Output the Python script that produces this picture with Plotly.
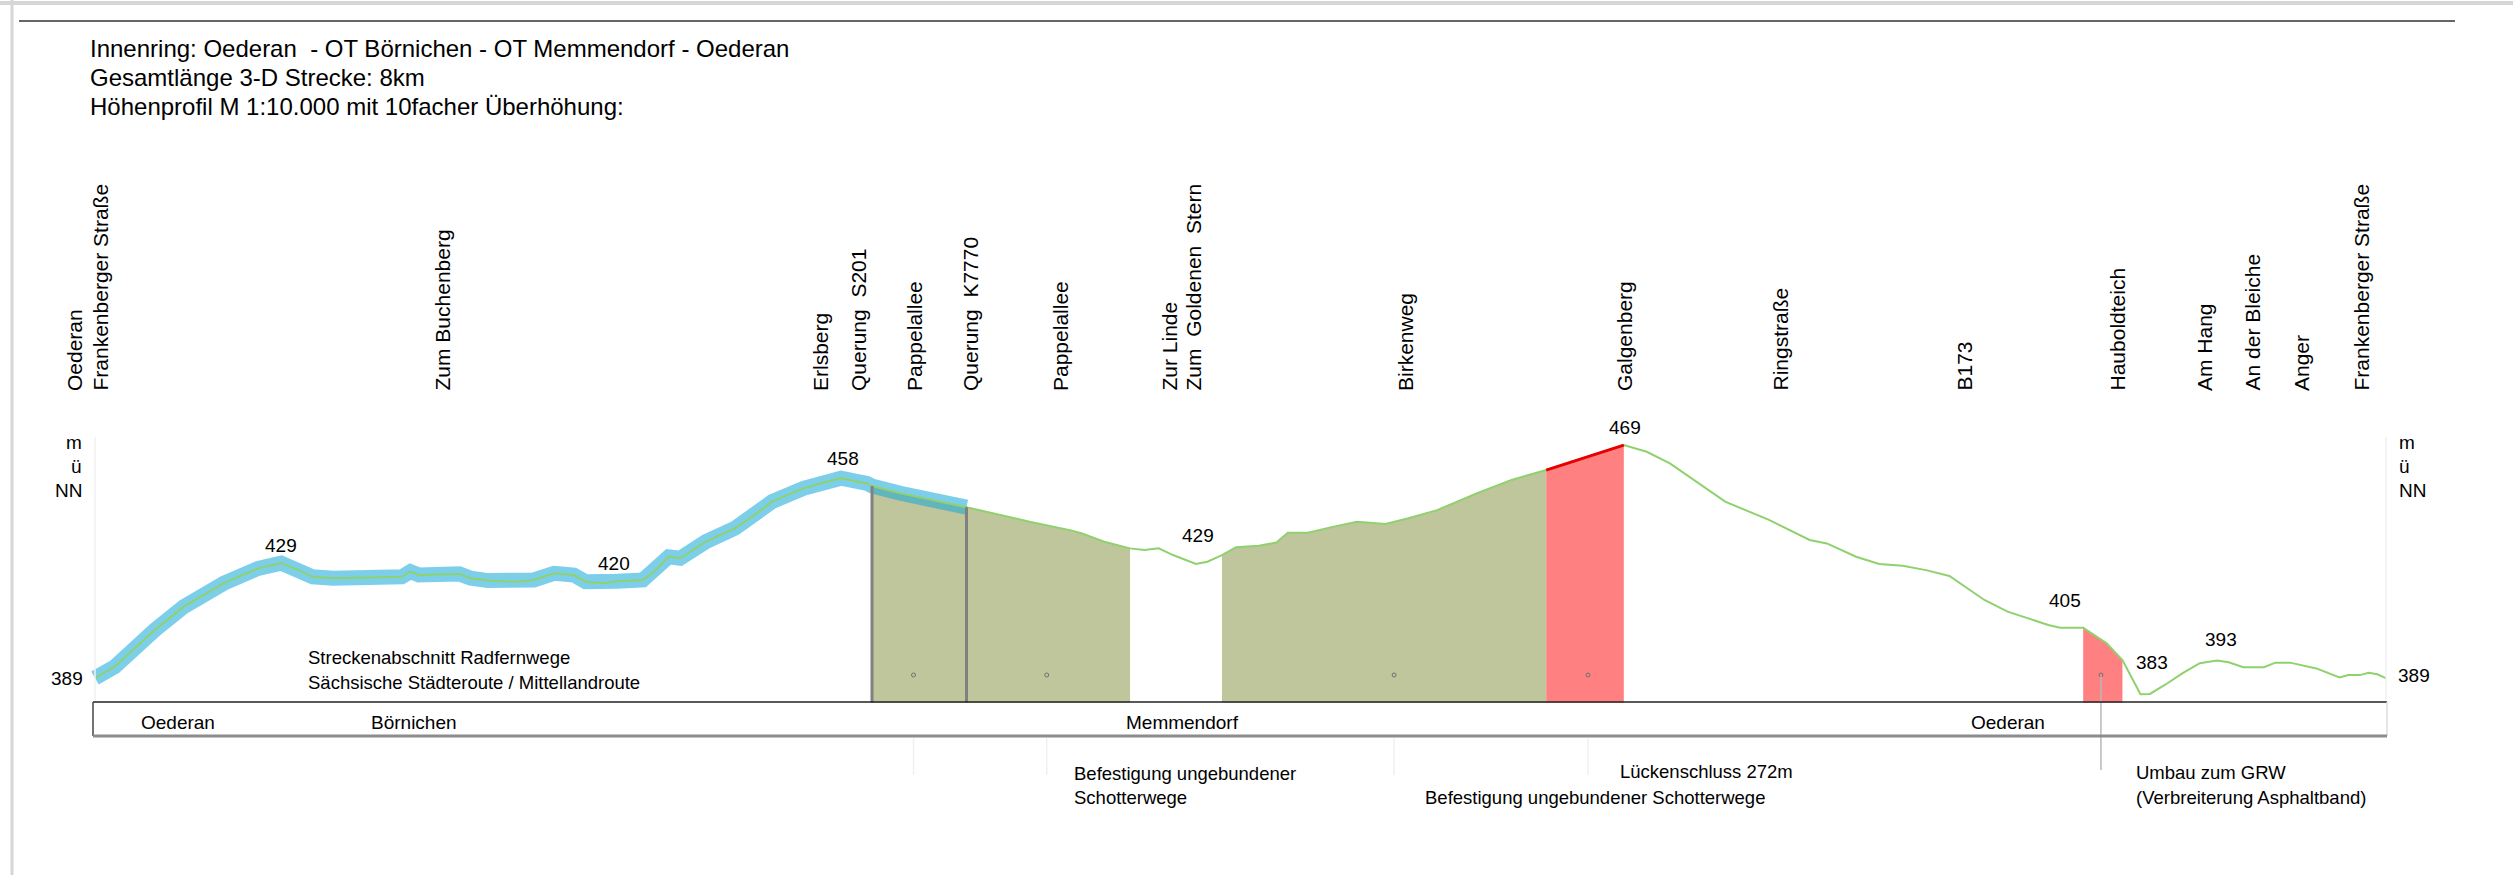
import numpy as np
import plotly.graph_objects as go

# --- data -----------------------------------------------------------------
# distance along the route (km) and elevation (m ü. NN)
DIST_KM = [0.000, 0.069, 0.209, 0.310, 0.450, 0.570, 0.650, 0.711, 0.760, 0.831,
           1.071, 1.101, 1.131, 1.272, 1.312, 1.372, 1.472, 1.532, 1.603, 1.672,
           1.713, 1.773, 1.823, 1.913, 1.953, 2.003, 2.043, 2.133, 2.234, 2.294,
           2.364, 2.474, 2.554, 2.605, 2.695, 2.713, 2.812, 3.043, 3.263, 3.404,
           3.444, 3.524, 3.614, 3.664, 3.714, 3.764, 3.844, 3.884, 3.935, 3.984,
           4.064, 4.125, 4.165, 4.235, 4.325, 4.406, 4.506, 4.586, 4.686, 4.826,
           4.946, 5.067, 5.338, 5.418, 5.499, 5.601, 5.692, 5.845, 5.987, 6.047,
           6.149, 6.230, 6.312, 6.393, 6.475, 6.597, 6.678, 6.820, 6.861, 6.942,
           7.024, 7.079, 7.115, 7.142, 7.175, 7.227, 7.288, 7.349, 7.410, 7.450,
           7.501, 7.573, 7.613, 7.664, 7.756, 7.837, 7.868, 7.908, 7.939, 7.969,
           8.000]
ELEV_M = [389.0, 392.9, 405.6, 413.6, 421.7, 426.8, 428.6, 426.2, 423.9, 423.4,
          423.9, 425.7, 424.5, 424.9, 423.4, 422.6, 422.2, 422.8, 425.1, 424.5,
          422.2, 421.7, 422.4, 422.8, 425.7, 430.8, 430.3, 436.0, 440.6, 444.6,
          449.8, 454.4, 456.7, 457.9, 456.1, 455.2, 452.7, 447.9, 442.9, 440.0,
          438.9, 436.0, 433.7, 433.1, 433.7, 431.4, 428.3, 429.1, 431.4, 434.1,
          434.6, 435.7, 439.1, 439.1, 441.2, 442.9, 442.1, 444.1, 446.9, 452.7,
          457.3, 460.7, 469.3, 467.0, 463.0, 456.1, 449.8, 443.5, 436.6, 435.4,
          430.8, 428.3, 427.7, 426.2, 424.2, 415.9, 411.9, 407.3, 406.3, 406.3,
          401.0, 395.2, 388.3, 383.4, 383.5, 386.6, 390.6, 394.1, 395.0, 394.4,
          392.7, 392.7, 394.3, 394.3, 392.3, 389.2, 390.0, 390.0, 390.8, 390.3,
          388.9]

RADWEG_KM = (0.0, 3.043)            # Radfernweg section (blue band)
GRAVEL_KM = [(2.713, 3.614), (3.935, 5.067)]   # Befestigung Schotterwege
GAP_KM = [(5.067, 5.338), (6.942, 7.079)]      # Lückenschluss / Umbau GRW
CROSSING_KM = [2.713, 3.043]                  # Querung S201 / K7770
NOTE_KM = [2.858, 3.323, 4.536, 5.213, 7.004]  # note markers
BASE_M = 380.5

PEAK_VALUES = ["429", "420", "458", "429", "469", "405", "383", "393"]

STREETS = ["Oederan", "Frankenberger Straße", "Zum Buchenberg", "Erlsberg",
           "Querung  S201", "Pappelallee", "Querung  K7770", "Pappelallee",
           "Zur Linde", "Zum  Goldenen  Stern", "Birkenweg", "Galgenberg",
           "Ringstraße", "B173", "Hauboldteich", "Am Hang", "An der Bleiche",
           "Anger", "Frankenberger Straße"]
PLACES = ["Oederan", "Börnichen", "Memmendorf", "Oederan"]

TITLE_LINES = ["Innenring: Oederan  - OT Börnichen - OT Memmendorf - Oederan",
               "Gesamtlänge 3-D Strecke: 8km",
               "Höhenprofil M 1:10.000 mit 10facher Überhöhung:"]

# --- page geometry (pixel -> data) -----------------------------------------
W, H = 2513, 875
PX0, PX_PER_KM = 95.0, 286.4
PY0, PX_PER_M = 678.0, 2.9


def X(px):
    return (px - PX0) / PX_PER_KM


def Y(py):
    return 389 + (PY0 - py) / PX_PER_M


FONT = "Arial, Liberation Sans, sans-serif"
dist = np.array(DIST_KM)
elev = np.array(ELEV_M)


def section(a, b):
    inner = (dist > a) & (dist < b)
    xs = np.concatenate([[a], dist[inner], [b]])
    ys = np.concatenate([[np.interp(a, dist, elev)], elev[inner], [np.interp(b, dist, elev)]])
    return xs, ys


fig = go.Figure()

# filled sections under the profile
for (a, b), col in [(GRAVEL_KM[0], "#c0c69c"), (GRAVEL_KM[1], "#c0c69c"),
                    (GAP_KM[0], "#ff8080"), (GAP_KM[1], "#ff8080")]:
    xs, ys = section(a, b)
    fig.add_trace(go.Scatter(x=list(xs) + [b, a], y=list(ys) + [BASE_M, BASE_M],
                             fill="toself", fillcolor=col, mode="lines",
                             line=dict(width=0, color=col), hoverinfo="skip"))

# Radfernweg band
xs, ys = section(*RADWEG_KM)
fig.add_trace(go.Scatter(x=xs, y=ys, mode="lines", hoverinfo="skip",
                         line=dict(color="rgba(19,168,215,0.55)", width=15)))

# profile line
fig.add_trace(go.Scatter(x=DIST_KM, y=ELEV_M, mode="lines", hoverinfo="skip",
                         line=dict(color="#8fd16f", width=2)))

# red edge on the first gap
xs, ys = section(*GAP_KM[0])
fig.add_trace(go.Scatter(x=xs, y=ys, mode="lines", hoverinfo="skip",
                         line=dict(color="#e80000", width=3)))

# crossing lines
for k in CROSSING_KM:
    fig.add_shape(type="line", x0=k, x1=k, y0=BASE_M, y1=float(np.interp(k, dist, elev)),
                  line=dict(color="#808080", width=3))

# note markers with leader lines
for i, k in enumerate(NOTE_KM):
    if i == 4:
        fig.add_shape(type="line", x0=k, x1=k, y0=Y(676), y1=Y(770),
                      line=dict(color="#b8b8b8", width=1.5))
    else:
        fig.add_shape(type="line", x0=k, x1=k, y0=Y(738), y1=Y(775),
                      line=dict(color="#f0f0f0", width=1.5))
fig.add_trace(go.Scatter(x=NOTE_KM, y=[Y(675)] * len(NOTE_KM), mode="markers",
                         hoverinfo="skip",
                         marker=dict(size=4, color="rgba(0,0,0,0)",
                                     line=dict(color="#707070", width=1))))

# place band
fig.add_shape(type="line", x0=X(93), x1=X(2387), y0=Y(702), y1=Y(702),
              line=dict(color="#222", width=1.5))
fig.add_shape(type="line", x0=X(93), x1=X(93), y0=Y(702), y1=Y(736),
              line=dict(color="#444", width=1.5))
fig.add_shape(type="line", x0=X(2387), x1=X(2387), y0=Y(702), y1=Y(736),
              line=dict(color="#dddddd", width=1.5))
fig.add_shape(type="line", x0=X(93), x1=X(2387), y0=Y(736), y1=Y(736),
              line=dict(color="#8c8c8c", width=3))

# faint axis lines
for px in (PX0, 2386):
    fig.add_shape(type="line", x0=X(px), x1=X(px), y0=Y(437), y1=Y(700),
                  line=dict(color="#f0f0f0", width=1.5))

# page frame
fig.add_shape(type="line", x0=X(0), x1=X(W), y0=Y(3), y1=Y(3),
              line=dict(color="#d6d6d6", width=4))
fig.add_shape(type="line", x0=X(12), x1=X(12), y0=Y(0), y1=Y(H),
              line=dict(color="#d6d6d6", width=3))
fig.add_shape(type="line", x0=X(19), x1=X(2455), y0=Y(21), y1=Y(21),
              line=dict(color="#333", width=1.5))

ann = []


def text(px, py, s, size=19, xa="left", ya="middle", angle=0):
    ann.append(dict(x=X(px), y=Y(py), text=s, showarrow=False, xanchor=xa, yanchor=ya,
                    textangle=angle, font=dict(family=FONT, size=size, color="#000")))


for i, line in enumerate(TITLE_LINES):
    text(88, 48 + 29 * i, line, size=24)

street_px = [74, 100, 442, 820, 858, 914, 970, 1060, 1169, 1193, 1405, 1624,
             1780, 1964, 2117, 2204, 2252, 2301, 2361]
for s, px in zip(STREETS, street_px):
    text(px, 393, s, size=21, xa="center", ya="bottom", angle=-90)

peak_pos = [(281, 545), (614, 563), (843, 458), (1198, 535), (1625, 427),
            (2065, 600), (2152, 662), (2221, 639)]
for s, (px, py) in zip(PEAK_VALUES, peak_pos):
    text(px, py, s, xa="center")

text(85, 678, "389", xa="right")
text(2396, 675, "389")
for j, s in enumerate(["m", "ü", "NN"]):
    text(84, 442 + 24 * j, s, xa="right")
    text(2397, 442 + 24 * j, s)

for s, px in zip(PLACES, [178, 414, 1182, 2008]):
    text(px, 722, s, xa="center")

text(306, 657, "Streckenabschnitt Radfernwege", size=18.5)
text(306, 682, "Sächsische Städteroute / Mittellandroute", size=18.5)
text(1072, 773, "Befestigung ungebundener", size=18.5)
text(1072, 797, "Schotterwege", size=18.5)
text(1618, 771, "Lückenschluss 272m", size=18.5)
text(1423, 797, "Befestigung ungebundener Schotterwege", size=18.5)
text(2134, 772, "Umbau zum GRW", size=18.5)
text(2134, 797, "(Verbreiterung Asphaltband)", size=18.5)

fig.update_layout(
    width=W, height=H,
    margin=dict(l=0, r=0, t=0, b=0),
    paper_bgcolor="white", plot_bgcolor="white",
    showlegend=False,
    annotations=ann,
    xaxis=dict(range=[X(0), X(W)], visible=False, fixedrange=True),
    yaxis=dict(range=[Y(H), Y(0)], visible=False, fixedrange=True),
)

fig.write_html("out.html", config={"displayModeBar": False},
               post_script="document.body.style.margin='0';document.body.style.overflow='hidden';")
